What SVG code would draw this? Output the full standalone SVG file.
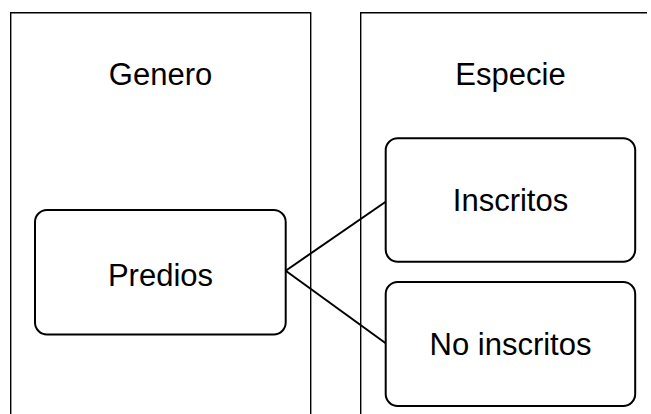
<svg xmlns="http://www.w3.org/2000/svg" width="651" height="414" viewBox="0 0 651 414">
  <style>
    .container { fill: none; stroke: #000; stroke-width: 1.4; }
    .box { fill: #fff; stroke: #000; stroke-width: 2; }
    .edge { fill: none; stroke: #000; stroke-width: 2; }
    .label { font-family: "Liberation Sans", Arial, sans-serif; font-size: 31px; fill: #000; text-anchor: middle; }
  </style>
  <rect width="651" height="414" fill="#fff"/>

  <!-- left column: Genero -->
  <g id="genero">
    <path class="container" d="M10.7 420 V12.7 H310.7 V420"/>
    <text class="label" x="160.5" y="85">Genero</text>
  </g>

  <!-- right column: Especie (runs past the right edge) -->
  <g id="especie">
    <path class="container" d="M360.7 420 V12.7 H647"/>
    <text class="label" x="510.5" y="85">Especie</text>
  </g>

  <!-- connectors -->
  <g id="connectors">
    <path class="edge" d="M285.7 270.7 L385.7 201.7"/>
    <path class="edge" d="M285.7 270.7 L385.7 343.3"/>
  </g>

  <g id="predios">
    <rect class="box" x="35" y="210" width="250.7" height="124.5" rx="12" ry="12"/>
    <text class="label" x="160.5" y="286">Predios</text>
  </g>

  <g id="inscritos">
    <rect class="box" x="385.7" y="138.3" width="249.5" height="123.4" rx="12" ry="12"/>
    <text class="label" x="510.5" y="211">Inscritos</text>
  </g>

  <g id="no-inscritos">
    <rect class="box" x="385.7" y="282" width="249.5" height="124" rx="12" ry="12"/>
    <text class="label" x="510.5" y="355">No inscritos</text>
  </g>
</svg>
